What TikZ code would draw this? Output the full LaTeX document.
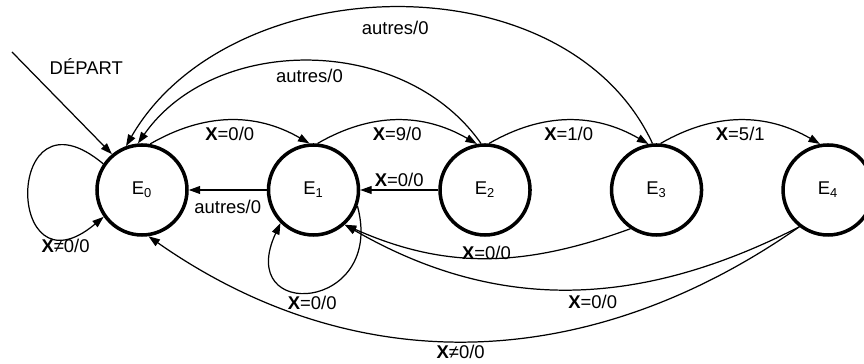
\documentclass[tikz,border=0pt]{standalone}
\usepackage{fontspec}
\setmainfont{Liberation Sans}
\usetikzlibrary{positioning,arrows.meta}
\begin{document}
\begin{tikzpicture}[
	font=\fontsize{10.5}{12}\selectfont,
	etat/.style={draw, circle, line width=2pt, minimum size=1.8cm, inner sep=0pt},
	trans/.style={-{Triangle[length=6.5pt,width=4.5pt]}, line width=0.7pt},
	node distance=1.56cm
	]
	\useasboundingbox (0,0) rectangle (17.28,7.28);
	\node [etat] (E0) at (2.84,3.48) {E\textsubscript{0}};
	\node [etat, right=of E0] (E1) {E\textsubscript{1}};
	\node [etat, right=of E1] (E2) {E\textsubscript{2}};
	\node [etat, right=of E2] (E3) {E\textsubscript{3}};
	\node [etat, right=of E3] (E4) {E\textsubscript{4}};
	\coordinate (depart) at (0.24,6.24);
	\draw [trans] (depart) -- (E0.130) node [pos=0.3, above right=1pt] {DÉPART};
	\draw [trans] (E0.146) .. controls +(140:2.6) and +(220:2.6) .. (E0.215) node [pos=0.85, below=-2pt] {\textbf{X}≠0/0};
	\draw [trans] (E0.80) to [out=30, in=150] node [below] {\textbf{X}=0/0} (E1.95);
	\draw [trans] (E1.85) to [out=30, in=150] node [below] {\textbf{X}=9/0} (E2.100);
	\draw [trans] (E2.85) to [out=30, in=150] node [below] {\textbf{X}=1/0} (E3.100);
	\draw [trans] (E3.85) to [out=30, in=150] node [below] {\textbf{X}=5/1} (E4.100);
	\draw [trans] (E2.95) to [out=125, in=55] node [below=1pt] {autres/0} (E0.95);
	\draw [trans] (E3.95) to [out=115, in=60] node [below=4pt] {autres/0} (E0.110);
	\draw [trans] (E1.west) -- node [below=2pt] {autres/0} (E0.east);
	\draw [trans] (E2.west) -- node [above=-2pt] {\textbf{X}=0/0} (E1.east);
	\draw [trans] (E1.340) .. controls +(-75:2.2) and +(245:2.2) .. node [below=-1pt] {\textbf{X}=0/0} (E1.225);
	\draw [trans] (E3.236) to [out=200, in=-24] node [above=-4.5pt] {\textbf{X}=0/0} (E1.312);
	\draw [trans] (E4.232) to [out=207, in=-30] node [pos=0.45, below=0pt] {\textbf{X}=0/0} (E1.312);
	\draw [trans] (E4.232) to [out=215, in=-35] node [pos=0.52, below=-1.5pt] {\textbf{X}≠0/0} (E0.278);
\end{tikzpicture}
\end{document}
